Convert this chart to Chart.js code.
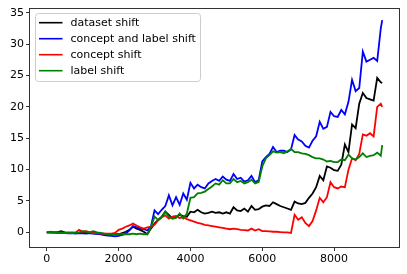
<!DOCTYPE html>
<html>
<head>
<meta charset="utf-8">
<script src="https://cdn.jsdelivr.net/npm/chart.js@4/dist/chart.umd.min.js"></script>
<style>
    html, body { margin: 0; padding: 0; background: #ffffff; }
    #wrap { width: 407px; height: 274px; }
</style>
</head>
<body>
<div id="wrap"><canvas id="shiftChart" width="407" height="274"></canvas></div>
<script>
"use strict";
// step index of the stream (every 100 samples, last one is the end)
var steps = [0,100,200,300,400,500,600,700,800,900,
    1000,1100,1200,1300,1400,1500,1600,1700,1800,1900,
    2000,2100,2200,2300,2400,2500,2600,2700,2800,2900,
    3000,3100,3200,3300,3400,3500,3600,3700,3800,3900,
    4000,4100,4200,4300,4400,4500,4600,4700,4800,4900,
    5000,5100,5200,5300,5400,5500,5600,5700,5800,5900,
    6000,6100,6200,6300,6400,6500,6600,6700,6800,6900,
    7000,7100,7200,7300,7400,7500,7600,7700,7800,7900,
    8000,8100,8200,8300,8400,8500,8600,8700,8800,8900,
    9000,9100,9200,9300,9340];

var datasetShift = [0,0,0,0.05,0.2,0,-0.05,-0.05,-0.1,-0.1,
    -0.05,-0.1,-0.1,-0.15,-0.2,-0.2,-0.25,-0.3,-0.3,-0.3,
    -0.3,-0.1,0.1,0.4,0.9,0.6,0.4,0.1,-0.3,0.6,
    1.4,2.0,2.5,3.3,2.8,2.2,2.4,2.8,2.6,2.5,
    3.3,3.2,3.6,3.2,3.0,3.1,3.3,3.1,3.2,3.0,
    3.2,3.0,4.0,3.5,3.4,3.8,3.3,4.2,3.6,3.7,
    4.1,4.3,4.2,4.8,4.5,4.2,4.0,3.8,3.6,4.9,
    4.6,4.5,4.7,5.5,6.2,7.2,9.0,8.3,10.5,10.3,
    9.9,9.8,10.8,14.0,12.8,17.2,16.6,20.5,22.2,21.4,
    21.2,21.0,24.6,23.9,23.8];

var conceptLabelShift = [0,0,-0.05,0,-0.1,-0.1,-0.15,-0.1,-0.2,-0.1,
    -0.15,-0.2,-0.1,-0.2,-0.25,-0.3,-0.45,-0.5,-0.55,-0.65,
    -0.55,-0.4,-0.2,0.3,1.0,0.8,0.6,0.5,0.3,0.9,
    3.5,2.9,3.6,4.2,5.9,4.3,5.6,4.4,6.2,5.2,
    7.9,7.0,7.6,7.2,7.0,7.8,8.2,8.5,8.2,8.9,
    8.4,8.2,9.3,8.5,8.7,8.1,8.3,9.0,8.0,8.3,
    11.3,12.0,12.5,13.6,12.8,13.0,13.0,12.8,13.2,15.5,
    14.8,14.5,13.8,13.5,14.6,15.3,17.6,16.5,16.8,19.2,
    18.5,18.4,19.5,18.8,20.8,24.3,22.5,23.0,28.8,27.2,
    27.5,27.8,27.3,32.5,33.8];

var conceptShift = [0,-0.05,-0.05,-0.1,-0.1,-0.1,-0.1,-0.05,-0.05,0.4,
    0.1,0.2,0,-0.1,-0.1,-0.2,-0.2,-0.2,-0.2,-0.1,
    0.4,0.6,0.9,1.1,1.4,1.1,0.8,0.6,0.8,0.9,
    1.2,1.9,2.4,2.7,2.2,2.5,2.6,2.3,2.4,2.1,
    1.9,1.7,1.5,1.4,1.2,1.1,1.0,0.9,0.8,0.7,
    0.6,0.5,0.6,0.5,0.4,0.35,0.3,0.6,0.3,0.5,
    0.2,0.2,0.15,0.1,0.1,0.05,0,0,-0.1,2.8,
    2.0,2.4,1.5,1.0,1.8,3.5,5.5,4.8,5.6,8.0,
    7.2,7.0,7.3,7.2,10.0,11.8,11.5,12.5,15.6,15.4,
    15.8,15.3,20.0,20.5,20.0];

var labelShift = [0,0.1,0.05,0,0,-0.05,-0.05,-0.1,-0.05,0,
    0.2,0.1,0.05,0.2,0,-0.1,-0.2,-0.3,-0.3,-0.35,
    -0.3,-0.3,-0.3,-0.3,-0.2,-0.3,-0.2,-0.3,-0.3,0.8,
    2.5,2.0,2.4,3.3,2.5,2.2,2.3,3.0,2.2,3.0,
    5.5,5.6,6.2,6.3,6.5,6.9,7.3,7.8,7.6,8.3,
    7.8,7.8,8.5,8.0,8.2,7.8,8.0,8.4,7.8,8.0,
    10.5,11.8,12.3,12.9,12.7,12.8,12.6,12.9,13.3,12.8,
    12.8,12.6,12.5,12.3,12.0,11.8,11.8,11.6,11.3,11.4,
    11.2,11.2,11.6,11.5,12.4,11.8,11.6,12.0,12.6,12.0,
    12.2,12.3,12.7,12.2,13.9];

var xTicks = [0, 2000, 4000, 6000, 8000];
var yTicks = [0, 5, 10, 15, 20, 25, 30, 35];

function toPoints(ys) {
    var pts = [];
    for (var i = 0; i < steps.length; i++) {
        pts.push({x: steps[i], y: ys[i]});
    }
    return pts;
}

// matplotlib style box around the axes
var frame = {
    id: 'frame',
    afterDatasetsDraw: function (chart) {
        var a = chart.chartArea;
        var ctx = chart.ctx;
        ctx.save();
        ctx.strokeStyle = '#333333';
        ctx.lineWidth = 1;
        ctx.strokeRect(Math.round(a.left) - 0.5, Math.round(a.top) - 0.5,
            Math.round(a.right - a.left) + 1, Math.round(a.bottom - a.top) + 1);
        ctx.restore();
    }
};

// legend in the upper left corner, drawn like matplotlib's
var cornerLegend = {
    id: 'cornerLegend',
    afterDraw: function (chart) {
        var ctx = chart.ctx;
        ctx.save();
        ctx.beginPath();
        ctx.roundRect(35.5, 13.5, 165, 68, 3);
        ctx.fillStyle = 'rgba(255,255,255,0.8)';
        ctx.fill();
        ctx.strokeStyle = '#cccccc';
        ctx.lineWidth = 1;
        ctx.stroke();
        ctx.font = '11px "DejaVu Sans"';
        ctx.textBaseline = 'middle';
        ctx.textAlign = 'left';
        chart.data.datasets.forEach(function (ds, i) {
            var ly = 22.7 + i * 16;
            ctx.beginPath();
            ctx.moveTo(39, ly);
            ctx.lineTo(62.5, ly);
            ctx.strokeStyle = ds.borderColor;
            ctx.lineWidth = 1.6;
            ctx.stroke();
            ctx.fillStyle = '#000000';
            ctx.fillText(ds.label, 70.5, ly + 0.5);
        });
        ctx.restore();
    }
};

function drawChart() {
    Chart.defaults.font.family = '"DejaVu Sans"';
    Chart.defaults.font.size = 11;
    Chart.defaults.color = '#000000';

    var ctx = document.getElementById("shiftChart");
    new Chart(ctx, {
        type: 'line',
        data: {
            datasets: [
                {label: "dataset shift", data: toPoints(datasetShift), borderColor: "#000000", order: 3},
                {label: "concept and label shift", data: toPoints(conceptLabelShift), borderColor: "#0000ff", order: 2},
                {label: "concept shift", data: toPoints(conceptShift), borderColor: "#ff0000", order: 1},
                {label: "label shift", data: toPoints(labelShift), borderColor: "#008000", order: 0}
            ]
        },
        options: {
            responsive: false,
            animation: false,
            events: [],
            layout: {padding: {top: 8, right: 8, left: 0, bottom: 0}},
            elements: {
                point: {radius: 0},
                line: {borderWidth: 1.8, tension: 0, fill: false}
            },
            plugins: {
                legend: {display: false},
                tooltip: {enabled: false}
            },
            scales: {
                x: {
                    type: 'linear',
                    min: -467,
                    max: 9807,
                    afterBuildTicks: function (s) {
                        s.ticks = xTicks.map(function (v) { return {value: v}; });
                    },
                    afterFit: function (s) { s.height = 27; },
                    border: {display: false},
                    grid: {drawOnChartArea: false, drawTicks: true, tickLength: 4, tickColor: '#333333'},
                    ticks: {
                        padding: 2,
                        maxRotation: 0,
                        autoSkip: false,
                        callback: function (v) { return String(v); }
                    }
                },
                y: {
                    type: 'linear',
                    min: -2.33,
                    max: 35.65,
                    afterBuildTicks: function (s) {
                        s.ticks = yTicks.map(function (v) { return {value: v}; });
                    },
                    afterFit: function (s) { s.width = 30; },
                    border: {display: false},
                    grid: {drawOnChartArea: false, drawTicks: true, tickLength: 4, tickColor: '#333333'},
                    ticks: {
                        padding: 2,
                        autoSkip: false,
                        callback: function (v) { return String(v); }
                    }
                }
            }
        },
        plugins: [frame, cornerLegend]
    });
}

drawChart();
</script>
</body>
</html>
